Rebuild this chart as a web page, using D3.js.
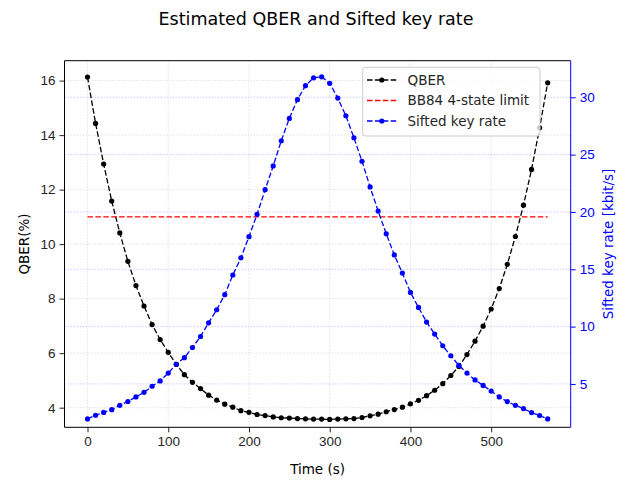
<!DOCTYPE html>
<html>
<head>
<meta charset="utf-8">
<script src="https://cdn.jsdelivr.net/npm/d3@7"></script>
<style>
  body { margin: 0; background: #fff; }
  svg { font-family: "DejaVu Sans", sans-serif; }
</style>
</head>
<body>
<svg id="chart" width="632" height="483"></svg>
<script>
// Data
const times = d3.range(0, 571, 10);
const qber = [16.13, 14.43, 12.94, 11.58, 10.41, 9.37, 8.48, 7.73, 7.05, 6.50,
  6.03, 5.59, 5.21, 4.93, 4.70, 4.46, 4.28, 4.13, 4.02, 3.89,
  3.83, 3.75, 3.71, 3.66, 3.63, 3.62, 3.60, 3.59, 3.58, 3.58,
  3.57, 3.58, 3.59, 3.60, 3.64, 3.70, 3.76, 3.85, 3.93, 4.02,
  4.14, 4.27, 4.44, 4.64, 4.88, 5.18, 5.51, 5.95, 6.44, 6.99,
  7.62, 8.37, 9.26, 10.28, 11.43, 12.74, 14.27, 15.92];
const keyRate = [1.95, 2.27, 2.52, 2.76, 3.14, 3.47, 3.87, 4.27, 4.80, 5.26,
  5.95, 6.72, 7.29, 8.18, 9.14, 10.33, 11.47, 12.79, 14.50, 16.00,
  17.84, 19.79, 21.94, 24.01, 26.21, 28.16, 29.79, 31.01, 31.70, 31.78,
  31.22, 29.93, 28.39, 26.47, 24.42, 22.18, 20.08, 18.10, 16.25, 14.67,
  12.98, 11.67, 10.40, 9.35, 8.33, 7.46, 6.62, 5.95, 5.35, 4.87,
  4.38, 3.87, 3.46, 3.14, 2.85, 2.50, 2.25, 1.95];
const bb84Limit = 11;
const xTicks = [0, 100, 200, 300, 400, 500];
const qberTicks = [4, 6, 8, 10, 12, 14, 16];
const rateTicks = [5, 10, 15, 20, 25, 30];
const legendNames = ["QBER", "BB84 4-state limit", "Sifted key rate"];

// Layout
const pLeft = 64.5, pRight = 570.7, pTop = 60.7, pBottom = 427.3;
const dash = "5.5,2.4";

const svg = d3.select("#chart");

const x = d3.scaleLinear().domain([-28.5, 598.5]).range([pLeft, pRight]);
const yL = d3.scaleLinear().domain([3.28, 16.73]).range([pBottom, pTop]);
const yR = d3.scaleLinear().domain([1.22, 33.19]).range([pBottom, pTop]);

// Grid (left axis + x)
const grid = svg.append("g");
grid.selectAll(".gx").data(xTicks).enter().append("line")
  .attr("x1", d => x(d)).attr("x2", d => x(d))
  .attr("y1", pTop).attr("y2", pBottom)
  .attr("stroke", "#b0b0b0").attr("stroke-opacity", 0.35)
  .attr("stroke-width", 1).attr("stroke-dasharray", "1.5,1.5");
grid.selectAll(".gy").data(qberTicks).enter().append("line")
  .attr("x1", pLeft).attr("x2", pRight)
  .attr("y1", d => yL(d)).attr("y2", d => yL(d))
  .attr("stroke", "#b0b0b0").attr("stroke-opacity", 0.35)
  .attr("stroke-width", 1).attr("stroke-dasharray", "1.5,1.5");
// Grid (right axis)
grid.selectAll(".gr").data(rateTicks).enter().append("line")
  .attr("x1", pLeft).attr("x2", pRight)
  .attr("y1", d => yR(d)).attr("y2", d => yR(d))
  .attr("stroke", "#0000ff").attr("stroke-opacity", 0.2)
  .attr("stroke-width", 1).attr("stroke-dasharray", "1.5,1.5");

// Lines
const qData = times.map((t, i) => ({t: t, v: qber[i]}));
const rData = times.map((t, i) => ({t: t, v: keyRate[i]}));

const qLine = d3.line().x(d => x(d.t)).y(d => yL(d.v));
const rLine = d3.line().x(d => x(d.t)).y(d => yR(d.v));

svg.append("path").datum(qData)
  .attr("d", qLine).attr("fill", "none")
  .attr("stroke", "black").attr("stroke-width", 1.3).attr("stroke-dasharray", dash);
svg.append("g").selectAll("circle").data(qData).enter().append("circle")
  .attr("cx", d => x(d.t)).attr("cy", d => yL(d.v)).attr("r", 2.6).attr("fill", "black");

svg.append("line")
  .attr("x1", x(times[0])).attr("x2", x(times[times.length - 1]))
  .attr("y1", yL(bb84Limit)).attr("y2", yL(bb84Limit))
  .attr("stroke", "red").attr("stroke-width", 1.3).attr("stroke-dasharray", dash);

svg.append("path").datum(rData)
  .attr("d", rLine).attr("fill", "none")
  .attr("stroke", "blue").attr("stroke-width", 1.3).attr("stroke-dasharray", dash);
svg.append("g").selectAll("circle").data(rData).enter().append("circle")
  .attr("cx", d => x(d.t)).attr("cy", d => yR(d.v)).attr("r", 2.6).attr("fill", "blue");

// Axes
const xAxis = svg.append("g").attr("transform", `translate(0,${pBottom})`)
  .call(d3.axisBottom(x).tickValues(xTicks).tickSize(5).tickPadding(4));
const lAxis = svg.append("g").attr("transform", `translate(${pLeft},0)`)
  .call(d3.axisLeft(yL).tickValues(qberTicks).tickSize(5).tickPadding(4));
const rAxis = svg.append("g").attr("transform", `translate(${pRight},0)`)
  .call(d3.axisRight(yR).tickValues(rateTicks).tickSize(5).tickPadding(4));

[xAxis, lAxis, rAxis].forEach(a => {
  a.selectAll(".domain").remove();
  a.selectAll("text").style("font-size", "13.5px").attr("fill", "#262626");
  a.selectAll("line").attr("stroke", "#262626");
});
rAxis.selectAll("text").attr("fill", "blue");
rAxis.selectAll("line").attr("stroke", "blue");

// Spines
svg.append("line").attr("x1", pLeft).attr("x2", pRight).attr("y1", pTop).attr("y2", pTop).attr("stroke", "black");
svg.append("line").attr("x1", pLeft).attr("x2", pRight).attr("y1", pBottom).attr("y2", pBottom).attr("stroke", "black");
svg.append("line").attr("x1", pLeft).attr("x2", pLeft).attr("y1", pTop).attr("y2", pBottom).attr("stroke", "black");
svg.append("line").attr("x1", pRight).attr("x2", pRight).attr("y1", pTop).attr("y2", pBottom).attr("stroke", "blue");

// Labels
svg.append("text").attr("x", 316).attr("y", 25).attr("text-anchor", "middle")
  .style("font-size", "17.5px").text("Estimated QBER and Sifted key rate");
svg.append("text").attr("x", (pLeft + pRight) / 2).attr("y", 474).attr("text-anchor", "middle")
  .style("font-size", "13.5px").text("Time (s)");
svg.append("text").attr("transform", `translate(29,${(pTop + pBottom) / 2}) rotate(-90)`)
  .attr("text-anchor", "middle").style("font-size", "13.5px").text("QBER(%)");
svg.append("text").attr("transform", `translate(613,${(pTop + pBottom) / 2}) rotate(-90)`)
  .attr("text-anchor", "middle").attr("fill", "blue").style("font-size", "13.5px")
  .text("Sifted key rate [kbit/s]");

// Legend
const lg = svg.append("g");
lg.append("rect").attr("x", 362.7).attr("y", 67.3).attr("width", 177.3).attr("height", 68.7)
  .attr("rx", 3).attr("fill", "white").attr("fill-opacity", 0.8)
  .attr("stroke", "#cccccc").attr("stroke-width", 1);
const legendColors = ["black", "red", "blue"];
const legendMarker = [true, false, true];
legendNames.forEach((name, i) => {
  const cy = 80 + i * 20.5;
  lg.append("line").attr("x1", 367).attr("x2", 396.7).attr("y1", cy).attr("y2", cy)
    .attr("stroke", legendColors[i]).attr("stroke-width", 1.3).attr("stroke-dasharray", dash);
  if (legendMarker[i]) {
    lg.append("circle").attr("cx", 381.8).attr("cy", cy).attr("r", 2.6).attr("fill", legendColors[i]);
  }
  lg.append("text").attr("x", 407.5).attr("y", cy).attr("dy", "0.35em")
    .style("font-size", "13.5px").attr("fill", "#262626").text(name);
});
</script>
</body>
</html>
